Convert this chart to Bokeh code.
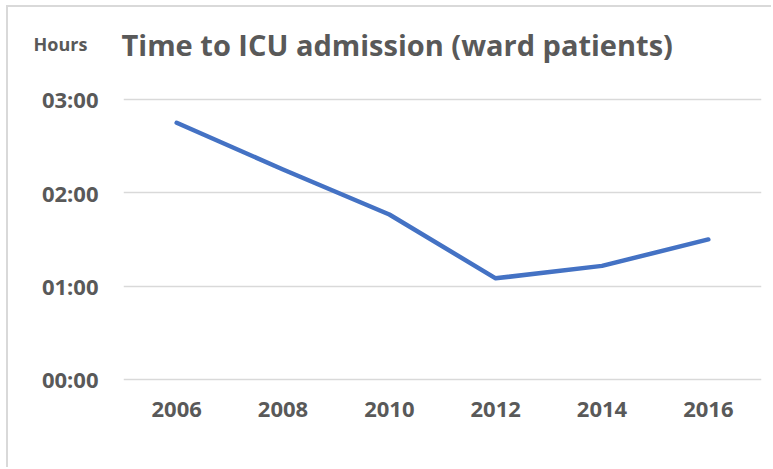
from bokeh.plotting import figure
from bokeh.models import Range1d, FixedTicker, Title
from bokeh.embed import file_html
from bokeh.resources import INLINE

years = ["2006", "2008", "2010", "2012", "2014", "2016"]
minutes = [165, 135, 106, 65, 73, 90]
y_ticks = [0, 60, 120, 180]
y_tick_labels = ["00:00", "01:00", "02:00", "03:00"]
title_text = "Time to ICU admission (ward patients)"
unit_text = "Hours"

GRAY = "#595959"
FONT = "Open Sans"

p = figure(width=765, height=462, x_range=years, y_range=Range1d(-2, 196.7),
           output_backend="svg", toolbar_location=None,
           min_border_left=115, min_border_right=12, min_border_top=66, min_border_bottom=87)
p.styles = {"margin-left": "6px", "margin-top": "5px",
            "border-left": "2px solid #d9d9d9", "border-top": "2px solid #d9d9d9"}
p.outline_line_color = None
p.background_fill_color = "white"
p.border_fill_color = "white"

# main title (outer panel)
p.title.text = title_text
p.title.align = "left"
p.title.offset = -2
p.title.standoff = -104
p.title.text_font = FONT
p.title.text_font_style = "bold"
p.title.text_color = GRAY
p.title.text_font_size = "29px"

# unit label (inner panel)
p.add_layout(Title(text=unit_text, align="left", offset=-90, standoff=36,
                   text_font=FONT, text_font_style="bold", text_color=GRAY,
                   text_font_size="18px"), "above")

p.line(x=years, y=minutes, line_color="#4472c4", line_width=4.5,
       line_cap="round", line_join="round")

p.xgrid.grid_line_color = None
p.ygrid.grid_line_color = "#d9d9d9"
p.ygrid.grid_line_width = 1.5

p.yaxis.ticker = FixedTicker(ticks=y_ticks)
p.yaxis.major_label_overrides = {t: l for t, l in zip(y_ticks, y_tick_labels)}
for ax in (p.xaxis[0], p.yaxis[0]):
    ax.axis_line_color = None
    ax.major_tick_line_color = None
    ax.minor_tick_line_color = None
    ax.major_tick_in = 0
    ax.major_tick_out = 0
    ax.major_label_text_font = FONT
    ax.major_label_text_font_style = "bold"
    ax.major_label_text_color = GRAY
    ax.major_label_text_font_size = "22px"
p.yaxis.major_label_standoff = 25
p.xaxis.major_label_standoff = 19

open("out.html", "w").write(file_html(p, INLINE))
